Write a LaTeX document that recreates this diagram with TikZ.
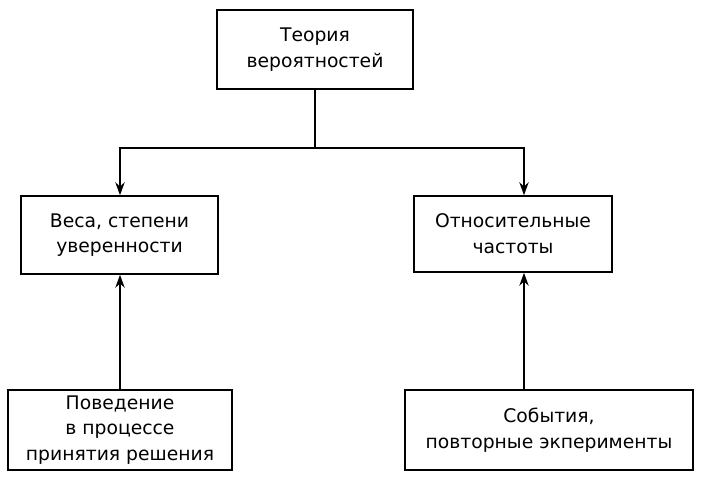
\documentclass[tikz,border=0pt]{standalone}
\usepackage{fontspec}
\setmainfont{DejaVu Sans}
\usetikzlibrary{arrows.meta}
\tikzset{
  blk/.style={draw, line width=1.4pt, align=center, inner sep=0pt,
    font=\fontsize{16}{22}\selectfont},
  link/.style={line width=1.4pt, -{Stealth[length=11pt,width=8pt]}}
}
\begin{document}
\begin{tikzpicture}[x=0.03cm, y=-0.03cm]
			\useasboundingbox (0,0) rectangle (703,495);

			\node[blk, minimum width=196*0.03cm, minimum height=79*0.03cm] (theory) at (315,49.5) {Теория\\вероятностей};
			\node[blk, minimum width=197*0.03cm, minimum height=78*0.03cm] (weights) at (119.5,235) {Веса, степени\\уверенности};
			\node[blk, minimum width=198*0.03cm, minimum height=76*0.03cm] (freq) at (513,234) {Относительные\\частоты};
			\node[blk, minimum width=224*0.03cm, minimum height=80*0.03cm] (behav) at (120,430) {Поведение\\в процессе\\принятия решения};
			\node[blk, minimum width=288*0.03cm, minimum height=80*0.03cm] (events) at (549,430) {События,\\повторные экперименты};

			\coordinate (split) at (315,148);
			\coordinate (lcol) at (120,0);
			\coordinate (rcol) at (524,0);
			\draw[line width=1.4pt] (theory.south) -- (split);
			\draw[link] (split) -| (weights.north -| lcol);
			\draw[link] (split) -| (freq.north -| rcol);
			\draw[link] (behav.north -| lcol) -- (weights.south -| lcol);
			\draw[link] (events.north -| rcol) -- (freq.south -| rcol);
		\end{tikzpicture}
\end{document}
